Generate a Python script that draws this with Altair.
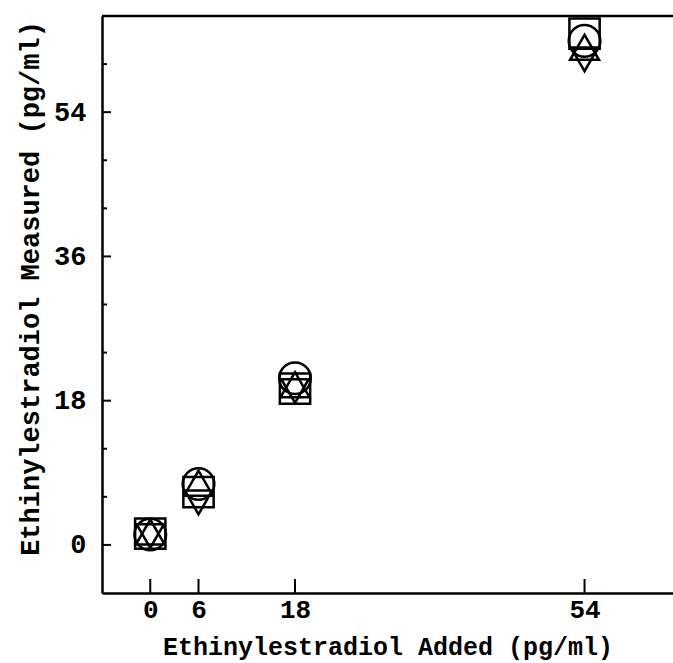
import altair as alt
import pandas as pd

# ---- data ----
x_added = [0, 6, 18, 54]
circle_vals = [1.3, 7.6, 20.8, 62.9]
square_vals = [1.4, 6.6, 19.5, 63.8]
tri_up_vals = [1.6, 7.7, 20.0, 62.1]
tri_down_vals = [1.1, 5.3, 19.2, 60.6]

series_names = ["circle", "square", "triangle-up", "triangle-down"]
series_vals = [circle_vals, square_vals, tri_up_vals, tri_down_vals]

x_ticks = [0, 6, 18, 54]
y_major = [0, 18, 36, 54]
y_minor = [6, 12, 24, 30, 42, 48, 60]

rows = []
for name, vals in zip(series_names, series_vals):
    for xv, yv in zip(x_added, vals):
        rows.append({"added": xv, "measured": yv, "series": name})
df = pd.DataFrame(rows)

W, H = 571, 577
FONT = "Liberation Mono"

xscale = alt.Scale(domain=[-6, 65], nice=False, zero=False)
yscale = alt.Scale(domain=[-6, 66], nice=False, zero=False)

x_axis = alt.Axis(
    values=x_ticks, ticks=False, grid=False, domainColor="black", domainWidth=2.5,
    labelFont=FONT, labelFontSize=26, labelFontWeight="bold", labelColor="black",
    labelPadding=3, labelFlush=False,
    title="Ethinylestradiol Added (pg/ml)", titleFont=FONT, titleFontSize=25,
    titleFontWeight="bold", titleColor="black", titleBaseline="alphabetic",
    titleY=61,
)
y_axis = alt.Axis(
    values=y_major, ticks=False, grid=False, domainColor="black", domainWidth=2.5,
    labelFont=FONT, labelFontSize=27, labelFontWeight="bold", labelColor="black",
    labelPadding=16, labelFlush=False,
    title="Ethinylestradiol Measured (pg/ml)", titleFont=FONT, titleFontSize=27,
    titleFontWeight="bold", titleColor="black", titleBaseline="alphabetic",
    titleAngle=-90, titleX=-64, titleY=272, titleAlign="center",
)

points = alt.Chart(df).mark_point(filled=False, color="black", strokeWidth=2.5, opacity=1).encode(
    x=alt.X("added:Q", scale=xscale, axis=x_axis),
    y=alt.Y("measured:Q", scale=yscale, axis=y_axis),
    shape=alt.Shape("series:N", scale=alt.Scale(domain=series_names, range=series_names), legend=None),
    size=alt.Size("series:N", scale=alt.Scale(domain=series_names, range=[1000, 750, 900, 900]), legend=None),
)

ymaj = alt.Chart(pd.DataFrame({"v": y_major})).mark_rule(color="black", strokeWidth=2).encode(
    y=alt.Y("v:Q", scale=yscale), x=alt.value(0), x2=alt.value(9)
)
ymin = alt.Chart(pd.DataFrame({"v": y_minor})).mark_rule(color="black", strokeWidth=2).encode(
    y=alt.Y("v:Q", scale=yscale), x=alt.value(0), x2=alt.value(5)
)
xt = alt.Chart(pd.DataFrame({"v": x_ticks})).mark_rule(color="black", strokeWidth=2).encode(
    x=alt.X("v:Q", scale=xscale), y=alt.value(H - 14), y2=alt.value(H)
)
top = alt.Chart(pd.DataFrame({"v": [0]})).mark_rule(color="black", strokeWidth=2.5).encode(
    x=alt.value(0), x2=alt.value(W), y=alt.value(0)
)

chart = alt.layer(ymaj, ymin, xt, top, points).properties(
    width=W, height=H,
    autosize=alt.AutoSizeParams(type="none"),
    padding={"left": 102, "top": 16, "right": 0, "bottom": 70},
    background="white",
).configure_view(stroke=None)

chart.save("out.html", embed_options={"renderer": "svg", "actions": False})
